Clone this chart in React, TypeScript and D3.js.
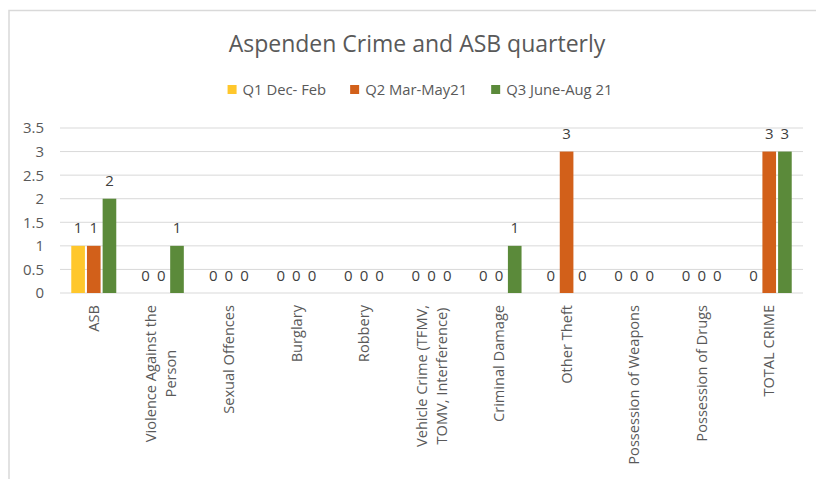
import * as d3 from "d3";
import React, { useRef, useEffect } from "react";

const categories = [
  ["ASB"],
  ["Violence Against the", "Person"],
  ["Sexual Offences"],
  ["Burglary"],
  ["Robbery"],
  ["Vehicle Crime (TFMV,", "TOMV, Interference)"],
  ["Criminal Damage"],
  ["Other Theft"],
  ["Possession of Weapons"],
  ["Possession of Drugs"],
  ["TOTAL CRIME"],
];
const seriesNames = ["Q1 Dec- Feb", "Q2 Mar-May21", "Q3 June-Aug 21"];
const q1Values = [1, 0, 0, 0, 0, 0, 0, 0, 0, 0, 0];
const q2Values = [1, 0, 0, 0, 0, 0, 0, 3, 0, 0, 3];
const q3Values = [2, 1, 0, 0, 0, 0, 1, 0, 0, 0, 3];
const yTicks = [0, 0.5, 1, 1.5, 2, 2.5, 3, 3.5];
const colors = ["#ffc72c", "#d2601a", "#5b8a3a"];

const width = 816;
const height = 479;
const font = "'Open Sans', sans-serif";
const textColor = "#595959";

function App() {
  const ref = useRef(null);

  useEffect(() => {
    draw();
  }, []); // eslint-disable-line react-hooks/exhaustive-deps

  const draw = () => {
    const svg = d3.select(ref.current);
    svg.selectAll("*").remove();

    const margin = { top: 128, left: 60, right: 13, bottom: 186 };
    const plotBottom = height - margin.bottom;
    const plotRight = width - margin.right;

    const keys = categories.map((c) => c.join(" "));
    const values = [q1Values, q2Values, q3Values];

    const x0 = d3.scaleBand().domain(keys).range([margin.left, plotRight]);
    const groupW = 45;
    const x1 = d3
      .scaleBand()
      .domain(seriesNames)
      .range([(x0.bandwidth() - groupW) / 2, (x0.bandwidth() + groupW) / 2])
      .paddingInner(0.13);
    const y = d3.scaleLinear().domain([0, 3.5]).range([plotBottom, margin.top]);

    // frame
    svg
      .append("rect")
      .attr("x", 9)
      .attr("y", 10.5)
      .attr("width", 900)
      .attr("height", 600)
      .attr("fill", "none")
      .attr("stroke", "#d9d9d9")
      .attr("stroke-width", 1.5);

    // title
    svg
      .append("text")
      .attr("x", 417)
      .attr("y", 52)
      .attr("text-anchor", "middle")
      .attr("font-family", font)
      .attr("font-size", 23)
      .attr("fill", textColor)
      .text("Aspenden Crime and ASB quarterly");

    // legend
    const legend = svg.append("g");
    let lx = 0;
    seriesNames.forEach((name, i) => {
      const g = legend.append("g").attr("transform", `translate(${lx},0)`);
      g.append("rect")
        .attr("x", 0)
        .attr("y", 85)
        .attr("width", 9)
        .attr("height", 9)
        .attr("fill", colors[i]);
      const t = g
        .append("text")
        .attr("x", 15)
        .attr("y", 95)
        .attr("font-family", font)
        .attr("font-size", 14.8)
        .attr("fill", textColor)
        .text(name);
      lx += 15 + t.node().getComputedTextLength() + 24;
    });
    const legendW = lx - 24;
    legend.attr("transform", `translate(${420 - legendW / 2},0)`);

    // gridlines + y labels
    const grid = svg.append("g");
    yTicks.forEach((t) => {
      grid
        .append("line")
        .attr("x1", margin.left)
        .attr("x2", plotRight)
        .attr("y1", y(t))
        .attr("y2", y(t))
        .attr("stroke", "#d9d9d9")
        .attr("stroke-width", 1);
      grid
        .append("text")
        .attr("x", 44)
        .attr("y", y(t))
        .attr("dy", "0.36em")
        .attr("text-anchor", "end")
        .attr("font-family", font)
        .attr("font-size", 15)
        .attr("fill", textColor)
        .text(String(t));
    });

    // bars
    const groups = svg
      .selectAll(".group")
      .data(keys)
      .join("g")
      .classed("group", true)
      .attr("transform", (d) => `translate(${x0(d)},0)`);

    groups
      .selectAll("rect")
      .data((d, ci) => seriesNames.map((s, si) => ({ s, si, v: values[si][ci] })))
      .join("rect")
      .attr("x", (d) => x1(d.s))
      .attr("width", x1.bandwidth())
      .attr("y", (d) => y(d.v))
      .attr("height", (d) => plotBottom - y(d.v))
      .attr("fill", (d) => colors[d.si]);

    groups
      .selectAll("text")
      .data((d, ci) => seriesNames.map((s, si) => ({ s, si, v: values[si][ci] })))
      .join("text")
      .attr("x", (d) => x1(d.s) + x1.bandwidth() / 2)
      .attr("y", (d) => y(d.v) - 12.5)
      .attr("text-anchor", "middle")
      .attr("font-family", font)
      .attr("font-size", 15)
      .attr("fill", "#404040")
      .text((d) => d.v);

    // x labels, rotated, lines centred in their block
    categories.forEach((lines, ci) => {
      const cx = x0(keys[ci]) + x0.bandwidth() / 2;
      const g = svg.append("g");
      const texts = lines.map((line) =>
        g
          .append("text")
          .attr("text-anchor", "middle")
          .attr("font-family", font)
          .attr("font-size", 14.6)
          .attr("fill", textColor)
          .text(line)
      );
      const maxLen = d3.max(texts, (t) => t.node().getComputedTextLength());
      const lineH = 20;
      const top = plotBottom + 12;
      texts.forEach((t, i) => {
        const off = (i - (lines.length - 1) / 2) * lineH;
        const px = cx + off;
        const py = top + maxLen / 2;
        t.attr("transform", `translate(${px},${py}) rotate(-90)`).attr("dy", "0.35em");
      });
    });
  };

  return (
    <div>
      <svg
        ref={ref}
        width={width}
        height={height}
        style={{ position: "absolute", left: 0, top: 0, background: "#fff" }}
      ></svg>
    </div>
  );
}

export default App;
